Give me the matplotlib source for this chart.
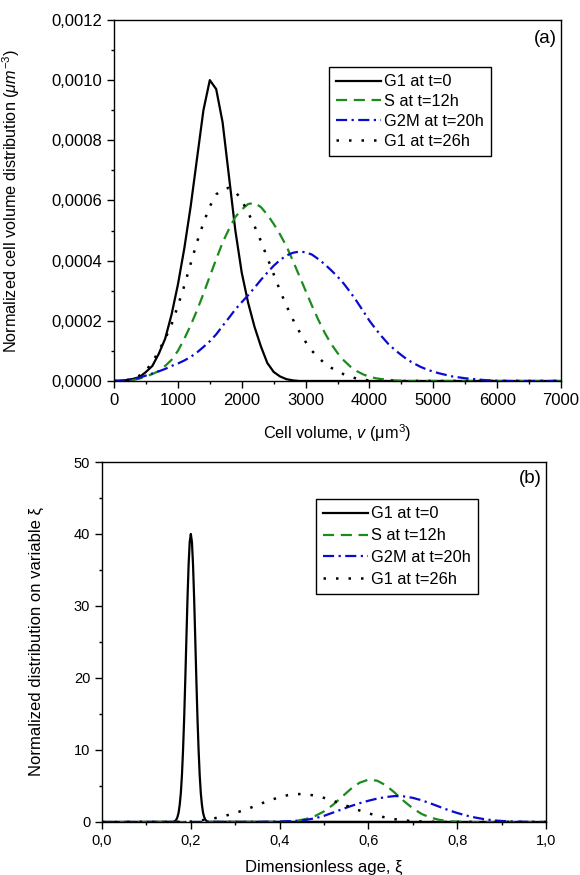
import numpy as np
import matplotlib
matplotlib.use('Agg')
import matplotlib.pyplot as plt
from matplotlib.ticker import MultipleLocator, FuncFormatter

plt.rcParams['font.family'] = ['Liberation Sans', 'DejaVu Sans']
plt.rcParams['mathtext.fontset'] = 'custom'
plt.rcParams['mathtext.rm'] = 'Liberation Sans'
plt.rcParams['mathtext.it'] = 'Liberation Sans:italic'

labels = ['G1 at t=0', 'S at t=12h', 'G2M at t=20h', 'G1 at t=26h']

# (a) cell volume, um^3, sampled every 100
volume = np.arange(0, 7001, 100)
g1_t0_a = [0, 0.000001, 0.000003, 0.000007, 0.000013, 0.00003, 0.00005, 0.00009, 0.00014, 0.00022,
           0.00032, 0.00044, 0.00058, 0.00074, 0.00090, 0.00100, 0.00097, 0.00086, 0.00068, 0.00050,
           0.00036, 0.00026, 0.00018, 0.000115, 0.00006, 0.00003, 0.000015, 0.000006, 0.000002, 0] + [0] * 41
s_t12_a = [0, 0, 0.000001, 0.000003, 0.000008, 0.000015, 0.000023, 0.000033, 0.00005, 0.00007,
           0.0001, 0.00014, 0.000185, 0.000235, 0.00029, 0.000348, 0.000405, 0.00046, 0.000505, 0.000545,
           0.00057, 0.000588, 0.000592, 0.000578, 0.000553, 0.000522, 0.000487, 0.000448, 0.0004, 0.00035,
           0.0003, 0.00025, 0.000203, 0.00016, 0.000123, 0.000093, 0.000068, 0.000048, 0.000033, 0.000022,
           0.000014, 0.000009, 0.000006, 0.000004, 0.000002, 0.000001, 0, 0, 0, 0] + [0] * 21
g2m_t20_a = [0, 0.000001, 0.000003, 0.000006, 0.000011, 0.000018, 0.000025, 0.000032, 0.00004, 0.00005,
             0.000058, 0.000068, 0.00008, 0.000095, 0.000113, 0.000132, 0.000155, 0.000183, 0.00021, 0.000238,
             0.000262, 0.000285, 0.00031, 0.000336, 0.00036, 0.000383, 0.000402, 0.000417, 0.000426, 0.00043,
             0.000428, 0.00042, 0.000405, 0.000388, 0.000368, 0.000347, 0.000323, 0.000295, 0.000265, 0.000233,
             0.0002, 0.000172, 0.000146, 0.000122, 0.000103, 0.000086, 0.00007, 0.000058, 0.000047, 0.000038,
             0.000031, 0.000025, 0.00002, 0.000015, 0.000012, 0.000009, 0.000007, 0.000005, 0.000003, 0.000002,
             0.000001] + [0] * 10
g1_t26_a = [0, 0.000001, 0.000003, 0.000008, 0.000018, 0.000035, 0.000062, 0.0001, 0.00014, 0.000187,
            0.00025, 0.000316, 0.00039, 0.000462, 0.000525, 0.00058, 0.00062, 0.000637, 0.000642, 0.00063,
            0.0006, 0.00056, 0.000515, 0.000465, 0.00041, 0.000355, 0.0003, 0.00025, 0.000205, 0.000165,
            0.00013, 0.0001, 0.000078, 0.000058, 0.000044, 0.000032, 0.000022, 0.000014, 0.000008, 0.000004,
            0.000002] + [0] * 30

# (b) dimensionless age
xi_g1_t0 = np.r_[0, np.linspace(0.16, 0.24, 33), 1]
g1_t0_b = [0, 0.03, 0.07, 0.16, 0.33, 0.7, 1.3, 2.4, 4.0, 6.5, 10.0, 14.4, 19.7, 25.4, 31.0, 35.7, 38.9,
           40.0, 38.9, 35.7, 31.0, 25.4, 19.7, 14.4, 10.0, 6.5, 4.0, 2.4, 1.3, 0.7, 0.33, 0.16, 0.07, 0.03, 0]
xi_s_t12 = np.r_[0, np.linspace(0.38, 0.84, 24), 1]
s_t12_b = [0, 0.01, 0.03, 0.08, 0.19, 0.42, 0.83, 1.47, 2.37, 3.47, 4.57, 5.45, 5.88, 5.73, 5.06, 4.03,
           2.90, 1.89, 1.11, 0.60, 0.29, 0.12, 0.05, 0.02, 0, 0]
xi_g2m_t20 = np.r_[0, np.linspace(0.34, 1.0, 34)]
g2m_t20_b = [0, 0.01, 0.02, 0.04, 0.06, 0.1, 0.18, 0.3, 0.52, 0.85, 1.3, 1.75, 2.2, 2.6, 2.95, 3.25, 3.47,
             3.6, 3.55, 3.35, 3.01, 2.58, 2.11, 1.65, 1.25, 0.9, 0.62, 0.4, 0.24, 0.14, 0.08, 0.04, 0.02, 0.01, 0]
xi_g1_t26 = np.r_[0, np.linspace(0.18, 0.78, 31), 1]
g1_t26_b = [0, 0, 0.05, 0.2, 0.35, 0.6, 0.9, 1.25, 1.65, 2.1, 2.6, 3.05, 3.45, 3.75, 3.88, 3.85, 3.65,
            3.35, 2.95, 2.5, 2.05, 1.6, 1.2, 0.88, 0.6, 0.38, 0.22, 0.12, 0.06, 0.03, 0.01, 0, 0]

green = '#1b8c1b'
blue = '#0b0bd0'
styles = [dict(color='black', linestyle='-', linewidth=1.6),
          dict(color=green, linestyle=(0, (5, 3)), linewidth=1.6),
          dict(color=blue, linestyle=(0, (5, 2, 1, 2)), linewidth=1.6),
          dict(color='black', linestyle=(0, (1, 4)), linewidth=1.8)]


def comma(fmt):
    return FuncFormatter(lambda v, p: fmt.format(v).replace('.', ','))


def style_axes(ax, fs):
    for s in ax.spines.values():
        s.set_linewidth(1.0)
    ax.tick_params(which='major', direction='out', length=5, width=1, labelsize=fs)
    ax.tick_params(which='minor', direction='out', length=2.5, width=1)


def add_legend(ax, anchor, fs, spacing):
    leg = ax.legend(loc='upper left', bbox_to_anchor=anchor, fontsize=fs, frameon=True,
                    fancybox=False, edgecolor='black', framealpha=1, borderpad=0.45,
                    labelspacing=spacing, handlelength=2.7, handletextpad=0.2, borderaxespad=0)
    leg.get_frame().set_linewidth(1.0)


fig = plt.figure(figsize=(5.8, 8.75), dpi=100)

# Graphe (a)
ax1 = fig.add_axes([0.1966, 0.5646, 0.7707, 0.4126])
for vals, lab, st in zip([g1_t0_a, s_t12_a, g2m_t20_a, g1_t26_a], labels, styles):
    ax1.plot(volume, vals, label=lab, **st)
ax1.set_xlim(0, 7000)
ax1.set_ylim(0, 0.0012)
ax1.xaxis.set_major_locator(MultipleLocator(1000))
ax1.xaxis.set_minor_locator(MultipleLocator(500))
ax1.yaxis.set_major_locator(MultipleLocator(0.0002))
ax1.yaxis.set_minor_locator(MultipleLocator(0.0001))
ax1.yaxis.set_major_formatter(comma('{:.4f}'))
style_axes(ax1, 12)
ax1.set_xlabel('Cell volume, $\\mathit{v}$ (μm$^3$)', fontsize=11.7)
ax1.set_ylabel('Normalized cell volume distribution ($\\mathit{μm}^{-3}$)', fontsize=11.7)
ax1.xaxis.set_label_coords(0.5, -0.115)
ax1.yaxis.set_label_coords(-0.205, 0.5)
ax1.text(0.99, 0.949, '(a)', transform=ax1.transAxes, ha='right', va='center', fontsize=13.5)
add_legend(ax1, (0.481, 0.870), 11.8, 0.3)

# Graphe (b)
ax2 = fig.add_axes([0.1759, 0.0606, 0.7655, 0.4114])
for xs, vals, lab, st in zip([xi_g1_t0, xi_s_t12, xi_g2m_t20, xi_g1_t26],
                             [g1_t0_b, s_t12_b, g2m_t20_b, g1_t26_b], labels, styles):
    ax2.plot(xs, vals, label=lab, **st)
ax2.set_xlim(0, 1)
ax2.set_ylim(0, 50)
ax2.xaxis.set_major_locator(MultipleLocator(0.2))
ax2.xaxis.set_minor_locator(MultipleLocator(0.1))
ax2.yaxis.set_major_locator(MultipleLocator(10))
ax2.yaxis.set_minor_locator(MultipleLocator(5))
ax2.xaxis.set_major_formatter(comma('{:.1f}'))
style_axes(ax2, 10.5)
ax2.set_xlabel('Dimensionless age, ξ', fontsize=12)
ax2.set_ylabel('Normalized distribution on variable ξ', fontsize=12)
ax2.xaxis.set_label_coords(0.5, -0.105)
ax2.yaxis.set_label_coords(-0.13, 0.5)
ax2.text(0.99, 0.953, '(b)', transform=ax2.transAxes, ha='right', va='center', fontsize=13.5)
add_legend(ax2, (0.482, 0.897), 11.8, 0.42)

fig.savefig('out.png', dpi=100)
